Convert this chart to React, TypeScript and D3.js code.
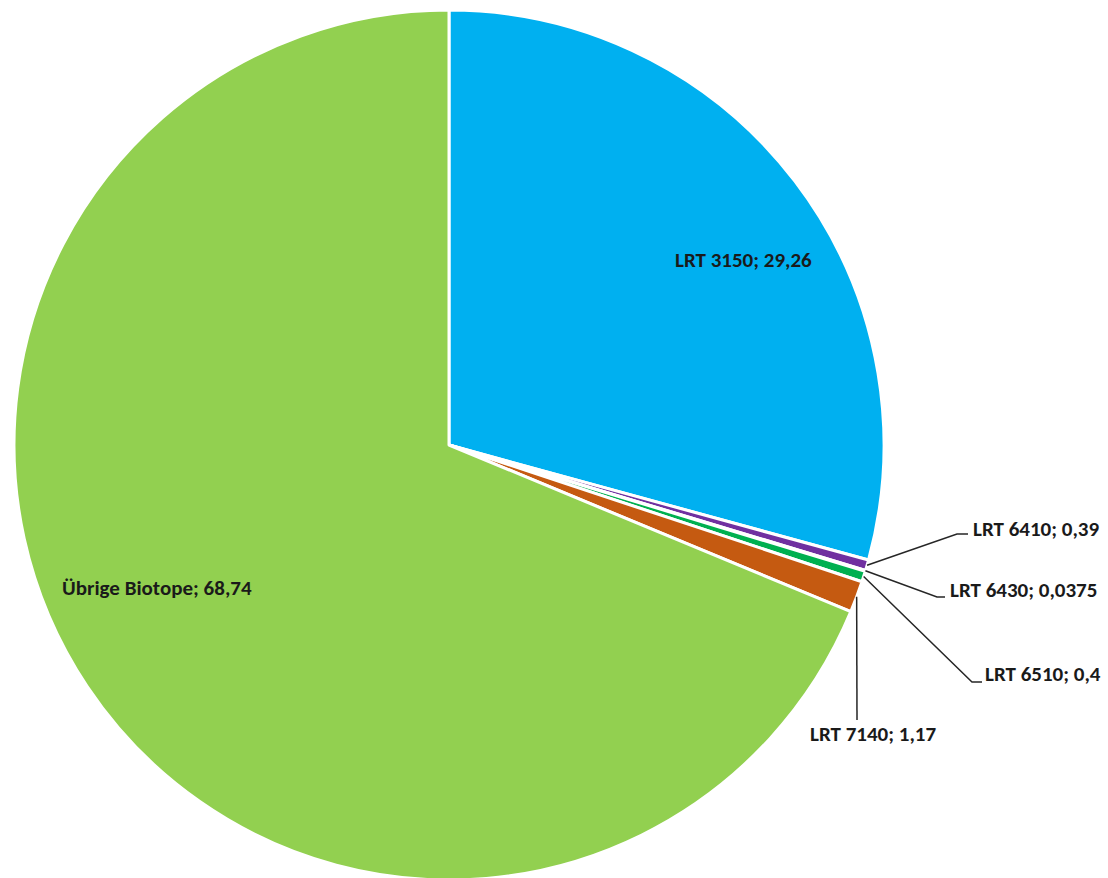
import React from "react";
import * as d3 from "d3";

const categories = ["LRT 3150", "LRT 6410", "LRT 6430", "LRT 6510", "LRT 7140", "Übrige Biotope"];
const values = [29.26, 0.39, 0.0375, 0.4, 1.17, 68.74];
const valueLabels = ["29,26", "0,39", "0,0375", "0,4", "1,17", "68,74"];
const colors = ["#00B0F0", "#7030A0", "#FFC000", "#00B050", "#C55A11", "#92D050"];

// label layout: text position (centre line) and leader elbow
const labelLayout: Array<{ tx: number; ty: number; ex?: number; ey?: number; hx?: number }> = [
  { tx: 675, ty: 260 },
  { tx: 973, ty: 529, ex: 957, ey: 534, hx: 968 },
  { tx: 950, ty: 590, ex: 937, ey: 597, hx: 945 },
  { tx: 985, ty: 674, ex: 972, ey: 682, hx: 982 },
  { tx: 810, ty: 734, ex: 857, ey: 720, hx: 857 },
  { tx: 62, ty: 588 },
];

const W = 1108;
const H = 878;
const cx = 449;
const cy = 445;
const R = 435;

export default function App() {
  const data = categories.map((c, i) => ({ c, v: values[i], i }));
  const pie = d3.pie<any>().sort(null).value((d) => d.v).startAngle(0).endAngle(2 * Math.PI);
  const arcs = pie(data);
  const arc = d3.arc<any>().innerRadius(0).outerRadius(R);
  const font = "Carlito, Calibri, Lato, 'Liberation Sans Narrow', Arial, sans-serif";
  return (
    <svg width={W} height={H} style={{ position: "absolute", left: 0, top: 0, background: "#fff" }}>
      <g transform={`translate(${cx},${cy})`}>
        {arcs.map((a, i) => (
          <path key={i} d={arc(a) || ""} fill={colors[i]} stroke="#fff" strokeWidth={3} strokeLinejoin="round" />
        ))}
      </g>
      {arcs.map((a, i) => {
        const L = labelLayout[i];
        const mid = (a.startAngle + a.endAngle) / 2;
        const sx = cx + R * Math.sin(mid);
        const sy = cy - R * Math.cos(mid);
        return (
          <g key={"l" + i}>
            {L.ex !== undefined && (
              <polyline
                points={`${sx},${sy} ${L.ex},${L.ey} ${L.hx},${L.ey}`}
                fill="none"
                stroke="#262626"
                strokeWidth={1.5}
              />
            )}
            <text
              x={L.tx}
              y={L.ty}
              dominantBaseline="central"
              textAnchor="start"
              fontFamily={font}
              fontWeight="bold"
              fontSize={21}
              fill="#1a1a1a"
            >
              {`${categories[i]}; ${valueLabels[i]}`}
            </text>
          </g>
        );
      })}
    </svg>
  );
}
